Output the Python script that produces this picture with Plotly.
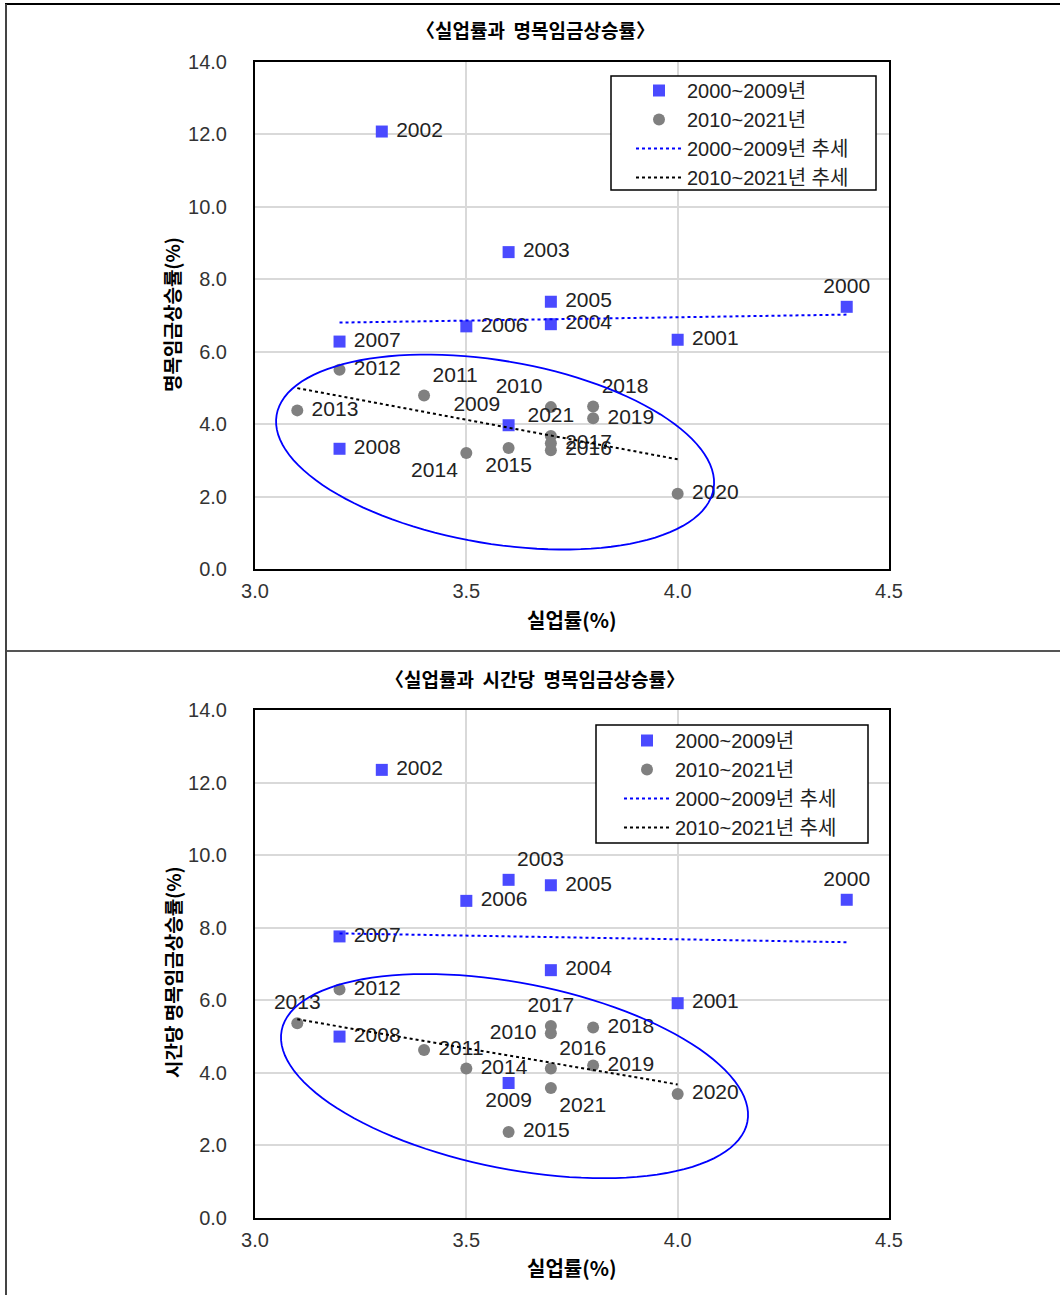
import numpy as np
import plotly.graph_objects as go

# ---------------- data ----------------
years_a = ["2000", "2001", "2002", "2003", "2004", "2005", "2006", "2007", "2008", "2009"]
years_b = ["2010", "2011", "2012", "2013", "2014", "2015", "2016", "2017", "2018", "2019", "2020", "2021"]

unemp_a = [4.4, 4.0, 3.3, 3.6, 3.7, 3.7, 3.5, 3.2, 3.2, 3.6]
unemp_b = [3.7, 3.4, 3.2, 3.1, 3.5, 3.6, 3.7, 3.7, 3.8, 3.8, 4.0, 3.7]

# chart 1: nominal wage growth
wage_a = [7.24, 6.33, 12.08, 8.75, 6.76, 7.38, 6.70, 6.28, 3.32, 3.97]
wage_b = [4.47, 4.79, 5.50, 4.38, 3.20, 3.34, 3.28, 3.47, 4.49, 4.16, 2.08, 3.67]

# chart 2: hourly nominal wage growth
hwage_a = [8.77, 5.92, 12.35, 9.32, 6.83, 9.17, 8.74, 7.76, 5.00, 3.72]
hwage_b = [5.09, 4.63, 6.30, 5.37, 4.12, 2.37, 4.12, 5.29, 5.25, 4.20, 3.42, 3.58]

pos1_a = ["top center", "middle right", "middle right", "middle right", "middle right", "middle right",
          "middle right", "middle right", "middle right", "top left"]
pos1_b = ["top left", "top right", "middle right", "middle right", "bottom left", "bottom center",
          "middle right", "middle right", "top right", "middle right", "middle right", "top center"]
pos2_a = ["top center", "middle right", "middle right", "top right", "middle right", "middle right",
          "middle right", "middle right", "middle right", "bottom center"]
pos2_b = ["middle left", "middle right", "middle right", "top center", "middle right", "middle right",
          "top right", "top center", "middle right", "middle right", "middle right", "bottom right"]

x_ticks = [3.0, 3.5, 4.0, 4.5]
y_ticks = [0, 2, 4, 6, 8, 10, 12, 14]

titles = ["〈실업률과  명목임금상승률〉", "〈실업률과  시간당  명목임금상승률〉"]
y_titles = ["명목임금상승률(%)", "시간당 명목임금상승률(%)"]
x_title = "실업률(%)"
names = ["2000~2009년", "2010~2021년", "2000~2009년 추세", "2010~2021년 추세"]

# ---------------- layout constants ----------------
W, H = 1060, 1295
XD = [255 / W, 889 / W]
YD1 = [1 - 569 / H, 1 - 62 / H]
YD2 = [1 - 1218 / H, 1 - 710 / H]
XR = [3.0, 4.5]
YR = [0, 14]

FONT = "Liberation Sans, Arial, Noto Sans CJK KR, sans-serif"
KFONT = "Noto Sans CJK KR, sans-serif"
BLUE_M = "#4a4aff"
GRAY_M = "#808080"
NB = "\u00a0"

fig = go.Figure()


def pad_labels(labels, positions):
    out = []
    for s, p in zip(labels, positions):
        if p.endswith("right") and p.startswith("middle"):
            out.append(NB + s)
        elif p.endswith("left") and p.startswith("middle"):
            out.append(s + NB)
        else:
            out.append(s)
    return out


def add_chart(xa, ya, xb, yb, pa, pb, xaxis, yaxis, legend):
    fig.add_trace(go.Scatter(x=xa, y=ya, mode="markers+text", text=pad_labels(years_a, pa), textposition=pa,
                             marker=dict(symbol="square", size=12, color=BLUE_M),
                             textfont=dict(size=21, color="#222", family=FONT),
                             name=names[0], xaxis=xaxis, yaxis=yaxis, legend=legend))
    fig.add_trace(go.Scatter(x=xb, y=yb, mode="markers+text", text=pad_labels(years_b, pb), textposition=pb,
                             marker=dict(symbol="circle", size=12, color=GRAY_M),
                             textfont=dict(size=21, color="#222", family=FONT),
                             name=names[1], xaxis=xaxis, yaxis=yaxis, legend=legend))
    for xs, ys, col, nm in [(xa, ya, "#0000ff", names[2]), (xb, yb, "#000000", names[3])]:
        k, c = np.polyfit(xs, ys, 1)
        lx = np.array([min(xs), max(xs)])
        fig.add_trace(go.Scatter(x=lx, y=k * lx + c, mode="lines",
                                 line=dict(color=col, width=2, dash="dot"),
                                 name=nm, xaxis=xaxis, yaxis=yaxis, legend=legend))


add_chart(unemp_a, wage_a, unemp_b, wage_b, pos1_a, pos1_b, "x", "y", "legend")
add_chart(unemp_a, hwage_a, unemp_b, hwage_b, pos2_a, pos2_b, "x2", "y2", "legend2")


# ellipse (annotation outline), defined by center in data units, semi-axes in px and tilt in degrees
def ellipse_path(cx, cy, a_px, b_px, ang_deg):
    px_x = (XD[1] - XD[0]) * W / (XR[1] - XR[0])
    px_y = (YD1[1] - YD1[0]) * H / (YR[1] - YR[0])
    th = np.radians(ang_deg)
    t = np.linspace(0, 2 * np.pi, 121)
    dx = a_px * np.cos(th) * np.cos(t) - b_px * np.sin(th) * np.sin(t)
    dy = a_px * np.sin(th) * np.cos(t) + b_px * np.cos(th) * np.sin(t)  # screen-down
    xs = cx + dx / px_x
    ys = cy - dy / px_y
    return "M " + " L ".join(f"{x:.4f},{y:.4f}" for x, y in zip(xs, ys)) + " Z"


fig.add_shape(type="path", path=ellipse_path(3.568, 3.23, 221.6, 91.5, 9.6),
              xref="x", yref="y", line=dict(color="#0000ff", width=1.8))
fig.add_shape(type="path", path=ellipse_path(3.614, 3.91, 237.3, 92.8, 11.1),
              xref="x2", yref="y2", line=dict(color="#0000ff", width=1.8))

axis_common = dict(showline=True, linecolor="black", linewidth=2, mirror=True, automargin=False,
                   showgrid=True, gridcolor="#d9d9d9", gridwidth=1.5, zeroline=False,
                   ticks="", tickfont=dict(size=20, color="#333", family=FONT))

legend_common = dict(xanchor="left", yanchor="top", bgcolor="rgba(0,0,0,0)", borderwidth=0,
                     font=dict(size=20, color="#222", family=FONT), tracegroupgap=0, itemwidth=46)

fig.update_layout(
    width=W, height=H, autosize=False, margin=dict(l=0, r=0, t=0, b=0, pad=0, autoexpand=False),
    paper_bgcolor="white", plot_bgcolor="white", showlegend=True,
    xaxis=dict(domain=XD, range=XR, tickvals=x_ticks, tickformat=".1f", anchor="y",
               ticklabelstandoff=3, **axis_common),
    yaxis=dict(domain=YD1, range=YR, tickvals=y_ticks, tickformat=".1f", anchor="x",
               ticklabelstandoff=22, **axis_common),
    xaxis2=dict(domain=XD, range=XR, tickvals=x_ticks, tickformat=".1f", anchor="y2",
                ticklabelstandoff=3, **axis_common),
    yaxis2=dict(domain=YD2, range=YR, tickvals=y_ticks, tickformat=".1f", anchor="x2",
                ticklabelstandoff=22, **axis_common),
    legend=dict(x=631 / W, y=1 - 71 / H, **legend_common),
    legend2=dict(x=619 / W, y=1 - 721 / H, **legend_common),
)

# legend frames
for x0, y0, x1, y1 in [(611, 76, 876, 190), (596, 725, 868, 843)]:
    fig.add_shape(type="rect", xref="paper", yref="paper", layer="above",
                  x0=x0 / W, x1=x1 / W, y0=1 - y1 / H, y1=1 - y0 / H,
                  fillcolor="white", line=dict(color="black", width=1.5))

ann = []
for ty, t in zip([1 - 30 / H, 1 - 678 / H], titles):
    ann.append(dict(text=f"<b>{t}</b>", x=535 / W, y=ty, xref="paper", yref="paper",
                    xanchor="center", yanchor="middle",
                    showarrow=False, font=dict(size=19, color="black", family=KFONT)))
for ty in [1 - 620 / H, 1 - 1267 / H]:
    ann.append(dict(text=f"<b>{x_title}</b>", x=572 / W, y=ty, xref="paper", yref="paper",
                    xanchor="center", yanchor="middle",
                    showarrow=False, font=dict(size=20, color="black", family=KFONT)))
for ty, t in zip([1 - 315 / H, 1 - 972 / H], y_titles):
    ann.append(dict(text=f"<b>{t}</b>", x=172 / W, y=ty, xref="paper", yref="paper",
                    xanchor="center", yanchor="middle",
                    showarrow=False, textangle=-90, font=dict(size=19, color="black", family=KFONT)))
fig.update_layout(annotations=ann)

# panel frame lines
fig.add_shape(type="line", xref="paper", yref="paper", x0=5 / W, x1=1, y0=1 - 4 / H, y1=1 - 4 / H,
              line=dict(color="black", width=2))
fig.add_shape(type="line", xref="paper", yref="paper", x0=5 / W, x1=1, y0=1 - 651 / H, y1=1 - 651 / H,
              line=dict(color="#555", width=2))
fig.add_shape(type="line", xref="paper", yref="paper", x0=6 / W, x1=6 / W, y0=0, y1=1 - 4 / H,
              line=dict(color="#444", width=2))

fig.write_html("out.html", config={"displayModeBar": False},
               post_script="document.body.style.margin='0px';document.body.style.overflow='hidden';")
